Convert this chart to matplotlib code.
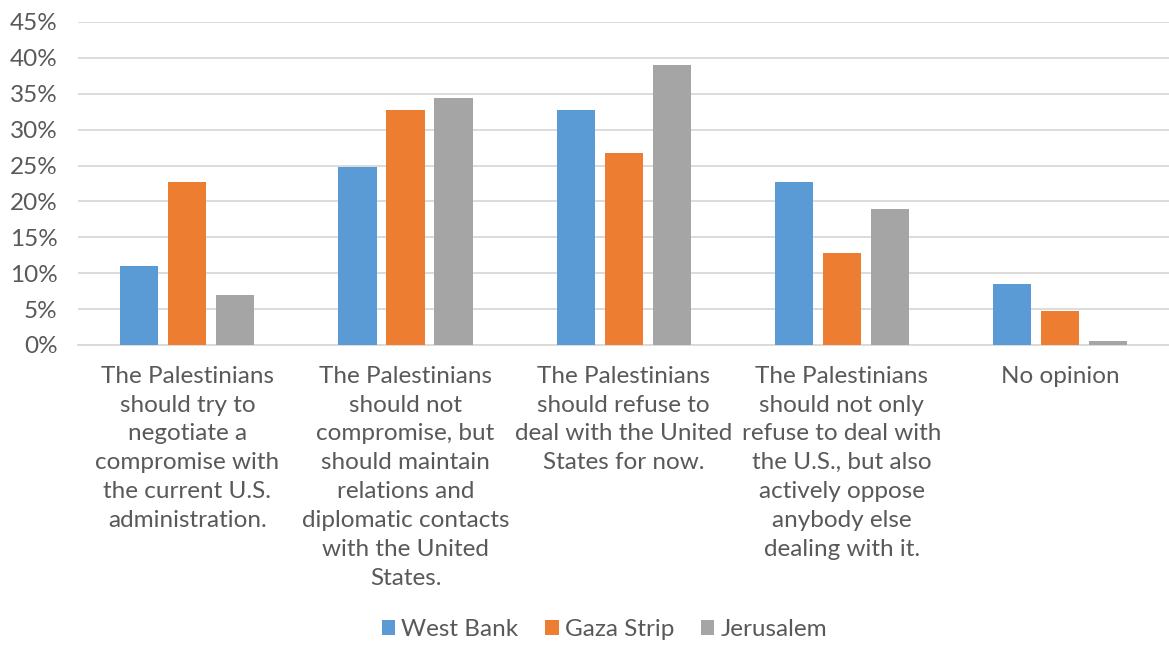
import matplotlib
matplotlib.use("Agg")
import matplotlib.pyplot as plt
import numpy as np
from matplotlib.ticker import FuncFormatter

categories = [
    "The Palestinians\nshould try to\nnegotiate a\ncompromise with\nthe current U.S.\nadministration.",
    "The Palestinians\nshould not\ncompromise, but\nshould maintain\nrelations and\ndiplomatic contacts\nwith the United\nStates.",
    "The Palestinians\nshould refuse to\ndeal with the United\nStates for now.",
    "The Palestinians\nshould not only\nrefuse to deal with\nthe U.S., but also\nactively oppose\nanybody else\ndealing with it.",
    "No opinion",
]
series_names = ["West Bank", "Gaza Strip", "Jerusalem"]
west_bank = [11.0, 24.8, 32.7, 22.7, 8.5]
gaza_strip = [22.7, 32.7, 26.8, 12.8, 4.7]
jerusalem = [6.9, 34.4, 39.0, 18.9, 0.5]
y_ticks = [0, 5, 10, 15, 20, 25, 30, 35, 40, 45]

colors = ["#5B9BD5", "#ED7D31", "#A5A5A5"]
text_color = "#595959"

plt.rcParams['font.family'] = ['Lato', 'DejaVu Sans']

fig = plt.figure(figsize=(11.69, 6.46), dpi=100)
ax = fig.add_axes([0.067, 0.466, 0.933, 0.5])

x = np.arange(len(categories))
w = 0.175
step = 0.22
for i, (vals, name, c) in enumerate(zip([west_bank, gaza_strip, jerusalem], series_names, colors)):
    ax.bar(x + (i - 1) * step, vals, width=w, color=c, label=name, zorder=3)

ax.set_xlim(-0.5, len(categories) - 0.5)
ax.set_ylim(0, 45)
ax.set_yticks(y_ticks)
ax.yaxis.set_major_formatter(FuncFormatter(lambda v, p: f"{int(v)}%"))
ax.grid(axis='y', color="#D9D9D9", linewidth=1.3, zorder=0)
for s in ['top', 'right', 'left']:
    ax.spines[s].set_visible(False)
ax.spines['bottom'].set_color("#D9D9D9")
ax.spines['bottom'].set_linewidth(1.3)
ax.tick_params(axis='y', length=0, labelsize=17.5, labelcolor=text_color, pad=15)
ax.tick_params(axis='x', length=0, labelsize=17.5, labelcolor=text_color, pad=15)
ax.set_xticks(x)
ax.set_xticklabels(categories, linespacing=1.46)

leg = fig.legend(loc='center', bbox_to_anchor=(0.517, 0.025), ncol=3, frameon=False,
                 fontsize=17.5, handlelength=0.55, handleheight=0.55, handletextpad=0.25,
                 columnspacing=1.1)
for t in leg.get_texts():
    t.set_color(text_color)

fig.savefig("out.png", dpi=100)
